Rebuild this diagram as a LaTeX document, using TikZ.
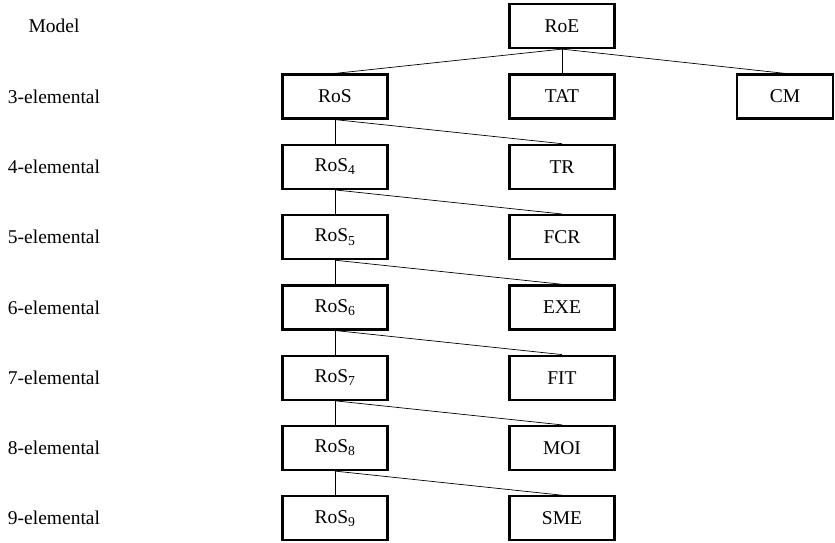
\documentclass[tikz,border=0pt]{standalone}
\usepackage{fontspec}
\setmainfont{Liberation Serif}

\begin{document}
\begin{tikzpicture}[x=1pt,y=-1pt,
  box/.style={draw,line width=2.2pt,minimum width=105pt,minimum height=44pt,inner sep=0pt},
  lvl/.style={anchor=center},
  conn/.style={line width=0.7pt}]
\useasboundingbox (0,0) rectangle (835,543);
\fontsize{19.5}{21}\selectfont
\node[lvl] (model) at (54,26) {Model};
\node[lvl] (lvl3) at (54,96.5) {3-elemental};
\node[box] (roe) at (562,26) {RoE};
\node[box] (ros3) at (335,96.5) {RoS};
\node[box] (tat) at (562,96.5) {TAT};
\node[box,minimum width=96pt] (cm) at (785,96.5) {CM};
\draw[conn] (roe.south) -- (ros3.north);
\draw[conn] (roe.south) -- (tat.north);
\draw[conn] (roe.south) -- (cm.north);
\foreach \i/\prev/\lbl in {4/3/TR,5/4/FCR,6/5/EXE,7/6/FIT,8/7/MOI,9/8/SME}{
  \node[lvl] (lvl\i) at (54,96.5+70.3*\i-210.9) {\i-elemental};
  \node[box] (ros\i) at (335,96.5+70.3*\i-210.9) {RoS\textsubscript{\i}};
  \node[box] (r\i) at (562,96.5+70.3*\i-210.9) {\lbl};
  \draw[conn] (ros\prev.south) -- (ros\i.north);
  \draw[conn] (ros\prev.south) -- (r\i.north);
}
\end{tikzpicture}
\end{document}
